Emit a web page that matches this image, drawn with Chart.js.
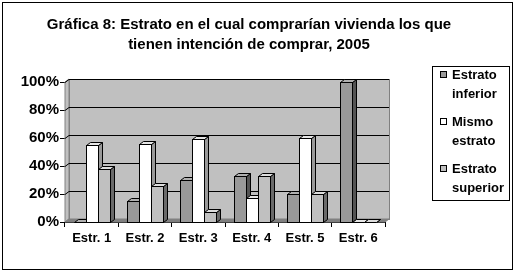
<!DOCTYPE html>
<html>
<head>
<meta charset="utf-8">
<script src="https://cdn.jsdelivr.net/npm/chart.js@4.4.1/dist/chart.umd.min.js"></script>
<style>
    html, body { margin: 0; padding: 0; background: #ffffff; }
    #wrap { width: 515px; height: 275px; }
</style>
</head>
<body>
<div id="wrap"><canvas id="chart" width="515" height="275"></canvas></div>
<script>
const categories = ["Estr. 1", "Estr. 2", "Estr. 3", "Estr. 4", "Estr. 5", "Estr. 6"];
const estratoInferior = [0, 15, 30, 33, 20, 100];
const mismoEstrato = [55, 56, 59, 17, 60, 0];
const estratoSuperior = [38, 26, 7, 33, 20, 0];
const seriesLabels = [["Estrato", "inferior"], ["Mismo", "estrato"], ["Estrato", "superior"]];
const seriesColors = ["#999999", "#ffffff", "#c0c0c0"];
const yTicks = [0, 20, 40, 60, 80, 100];
const titleLines = ["Gráfica 8: Estrato en el cual comprarían vivienda los que", "tienen intención de comprar, 2005"];

const FONT = "'Liberation Sans', Arial, sans-serif";
const DX = 4;
const DY = 3;

function shade(hex, f) {
    const n = parseInt(hex.slice(1), 16);
    const ch = [(n >> 16) & 255, (n >> 8) & 255, n & 255].map((c) => Math.max(0, Math.min(255, Math.round(c * f))));
    return `rgb(${ch[0]}, ${ch[1]}, ${ch[2]})`;
}

// back wall, side wall, floor and gridlines
const wallsPlugin = {
    id: "walls",
    beforeDatasetsDraw(chart) {
        const { ctx, chartArea: a, scales } = chart;
        const y = scales.y;
        ctx.save();
        ctx.lineWidth = 1;
        // left wall
        ctx.fillStyle = "#c0c0c0";
        ctx.strokeStyle = "#808080";
        ctx.beginPath();
        ctx.moveTo(a.left, a.bottom);
        ctx.lineTo(a.left, a.top);
        ctx.lineTo(a.left + DX, a.top - DY);
        ctx.lineTo(a.left + DX, a.bottom - DY);
        ctx.closePath();
        ctx.fill();
        ctx.stroke();
        // back wall
        ctx.fillRect(a.left + DX, a.top - DY, a.right - a.left, a.bottom - a.top);
        ctx.strokeRect(a.left + DX + 0.5, a.top - DY + 0.5, a.right - a.left, a.bottom - a.top);
        // floor
        ctx.fillStyle = "#808080";
        ctx.beginPath();
        ctx.moveTo(a.left, a.bottom);
        ctx.lineTo(a.right, a.bottom);
        ctx.lineTo(a.right + DX, a.bottom - DY);
        ctx.lineTo(a.left + DX, a.bottom - DY);
        ctx.closePath();
        ctx.fill();
        ctx.stroke();
        // gridlines
        ctx.strokeStyle = "#000000";
        yTicks.forEach((v) => {
            if (v === 0) return;
            const py = Math.round(y.getPixelForValue(v)) + 0.5;
            ctx.beginPath();
            ctx.moveTo(a.left, py);
            ctx.lineTo(a.left + DX, py - DY);
            ctx.lineTo(a.right + DX, py - DY);
            ctx.stroke();
        });
        ctx.restore();
    },
    afterDatasetsDraw(chart) {
        const { ctx } = chart;
        const metas = chart.data.datasets.map((d, i) => chart.getDatasetMeta(i));
        ctx.save();
        ctx.lineWidth = 1;
        ctx.strokeStyle = "#000000";
        for (let c = 0; c < categories.length; c++) {
            metas.forEach((meta, i) => {
                const bar = meta.data[c];
                const col = seriesColors[i];
                const x0 = Math.round(bar.x - bar.width / 2) + 0.5;
                const x1 = Math.round(bar.x + bar.width / 2) + 0.5;
                const yt = Math.round(bar.y) + 0.5;
                const yb = Math.round(bar.base) + 0.5;
                // side
                ctx.fillStyle = shade(col, i === 1 ? 0.6 : 0.55);
                ctx.beginPath();
                ctx.moveTo(x1, yb);
                ctx.lineTo(x1, yt);
                ctx.lineTo(x1 + DX, yt - DY);
                ctx.lineTo(x1 + DX, yb - DY);
                ctx.closePath();
                ctx.fill();
                ctx.stroke();
                // top
                ctx.fillStyle = i === 1 ? "#e6e6e6" : shade(col, 1.15);
                ctx.beginPath();
                ctx.moveTo(x0, yt);
                ctx.lineTo(x0 + DX, yt - DY);
                ctx.lineTo(x1 + DX, yt - DY);
                ctx.lineTo(x1, yt);
                ctx.closePath();
                ctx.fill();
                ctx.stroke();
                // front
                if (yb - yt > 0) {
                    ctx.fillStyle = col;
                    ctx.fillRect(x0, yt, x1 - x0, yb - yt);
                    ctx.strokeRect(x0, yt, x1 - x0, yb - yt);
                }
            });
        }
        ctx.restore();
    },
};

// title, legend box and outer frame
const decorPlugin = {
    id: "decor",
    afterDraw(chart) {
        const { ctx } = chart;
        ctx.save();
        ctx.strokeStyle = "#000000";
        ctx.lineWidth = 1;
        ctx.strokeRect(2.5, 2.5, 510, 267);

        ctx.fillStyle = "#000000";
        ctx.font = `bold 15px ${FONT}`;
        ctx.textAlign = "center";
        ctx.textBaseline = "middle";
        ctx.fillText(titleLines[0], 249, 25);
        ctx.fillText(titleLines[1], 249, 45);

        ctx.font = `bold 13px ${FONT}`;
        ctx.strokeRect(432.5, 66.5, 77, 134);
        ctx.textAlign = "left";
        seriesLabels.forEach((lines, i) => {
            const yy = 75 + i * 47;
            ctx.fillStyle = seriesColors[i];
            ctx.fillRect(440.5, yy - 3.5, 6, 6);
            ctx.strokeRect(440.5, yy - 3.5, 6, 6);
            ctx.fillStyle = "#000000";
            ctx.fillText(lines[0], 452, yy);
            ctx.fillText(lines[1], 452, yy + 19);
        });
        ctx.restore();
    },
};

const datasets = [estratoInferior, mismoEstrato, estratoSuperior].map((values, i) => ({
    label: seriesLabels[i].join(" "),
    data: values,
    backgroundColor: "rgba(0,0,0,0)",
    borderWidth: 0,
    categoryPercentage: 0.68,
    barPercentage: 1.0,
}));

new Chart(document.getElementById("chart"), {
    type: "bar",
    data: { labels: categories, datasets: datasets },
    options: {
        responsive: false,
        animation: false,
        events: [],
        layout: { padding: { left: 0, top: 82, right: 130, bottom: 0 } },
        plugins: {
            legend: { display: false },
            title: { display: false },
            tooltip: { enabled: false },
        },
        scales: {
            x: {
                afterFit: (scale) => { scale.height = 53; },
                grid: { offset: true, drawOnChartArea: false, tickLength: 5, color: "#000000" },
                border: { color: "#000000" },
                ticks: { color: "#000000", font: { family: FONT, size: 13, weight: "bold" }, padding: 4 },
            },
            y: {
                min: 0,
                max: 100,
                afterFit: (scale) => { scale.width = 65; },
                afterBuildTicks: (scale) => { scale.ticks = yTicks.map((v) => ({ value: v })); },
                grid: { drawOnChartArea: false, tickLength: 5, color: "#000000" },
                border: { color: "#000000" },
                ticks: {
                    color: "#000000",
                    font: { family: FONT, size: 15, weight: "bold" },
                    padding: 1,
                    callback: (v) => v + "%",
                },
            },
        },
    },
    plugins: [wallsPlugin, decorPlugin],
});
</script>
</body>
</html>
